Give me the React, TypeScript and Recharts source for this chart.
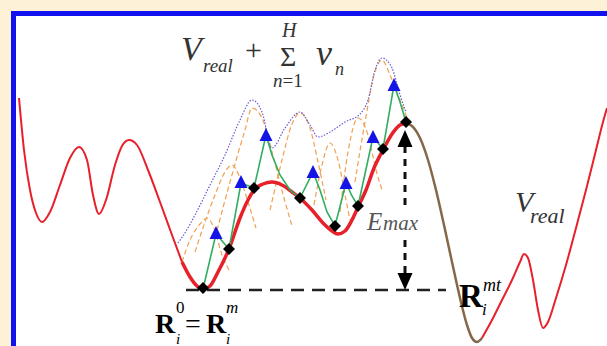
import React from "react";
import { ComposedChart, Line, XAxis, YAxis } from "recharts";

// potential energy curve, split into the styled pieces seen in the sketch
const redLeft = [
  { x: 19, y: 98 }, { x: 24, y: 150 }, { x: 30, y: 190 }, { x: 36, y: 213 }, { x: 42, y: 222 },
  { x: 50, y: 212 }, { x: 60, y: 185 }, { x: 70, y: 158 }, { x: 79, y: 147 }, { x: 87, y: 160 },
  { x: 93, y: 195 }, { x: 99, y: 214 }, { x: 106, y: 200 }, { x: 115, y: 165 }, { x: 122, y: 146 },
  { x: 129, y: 140 }, { x: 137, y: 145 }, { x: 148, y: 170 }, { x: 160, y: 202 }, { x: 172, y: 235 },
  { x: 182, y: 262 },
];
const redMid = [
  { x: 182, y: 262 }, { x: 190, y: 277 }, { x: 197, y: 286 }, { x: 203, y: 289 }, { x: 210, y: 286 },
  { x: 218, y: 272 }, { x: 229, y: 249 }, { x: 240, y: 218 }, { x: 248, y: 200 }, { x: 255, y: 189 },
  { x: 263, y: 184 }, { x: 272, y: 182 }, { x: 282, y: 185 }, { x: 292, y: 192 }, { x: 301, y: 199 },
  { x: 312, y: 210 }, { x: 324, y: 224 }, { x: 332, y: 231 }, { x: 338, y: 234 }, { x: 345, y: 231 },
  { x: 352, y: 220 }, { x: 358, y: 207 }, { x: 366, y: 190 }, { x: 374, y: 168 }, { x: 383, y: 150 },
  { x: 392, y: 134 }, { x: 400, y: 125 }, { x: 406, y: 123 },
];
const brownDrop = [
  { x: 406, y: 123 }, { x: 412, y: 126 }, { x: 420, y: 138 }, { x: 428, y: 160 }, { x: 436, y: 190 },
  { x: 444, y: 225 }, { x: 452, y: 262 }, { x: 460, y: 298 }, { x: 467, y: 325 }, { x: 472, y: 338 },
  { x: 477, y: 342 }, { x: 482, y: 338 },
];
const redRight = [
  { x: 482, y: 338 }, { x: 492, y: 320 }, { x: 502, y: 300 }, { x: 512, y: 280 }, { x: 520, y: 262 },
  { x: 524, y: 254 }, { x: 528, y: 258 }, { x: 533, y: 280 }, { x: 538, y: 310 }, { x: 543, y: 328 },
  { x: 548, y: 322 }, { x: 556, y: 298 }, { x: 566, y: 265 }, { x: 576, y: 228 }, { x: 586, y: 190 },
  { x: 596, y: 150 }, { x: 603, y: 122 }, { x: 607, y: 108 },
];

// V_real + sum of bias potentials
const biasTotal = [
  { x: 178, y: 243 }, { x: 183, y: 236 }, { x: 195, y: 215 }, { x: 210, y: 185 }, { x: 225, y: 155 },
  { x: 240, y: 120 }, { x: 252, y: 100 }, { x: 262, y: 112 }, { x: 272, y: 148 }, { x: 285, y: 128 },
  { x: 300, y: 112 }, { x: 310, y: 125 }, { x: 318, y: 137 }, { x: 330, y: 132 }, { x: 345, y: 122 },
  { x: 360, y: 114 }, { x: 368, y: 100 }, { x: 375, y: 70 }, { x: 382, y: 58 }, { x: 392, y: 68 },
  { x: 400, y: 95 }, { x: 406, y: 112 },
];

// intermediate biased potentials
const biasA = [
  { x: 182, y: 262 }, { x: 190, y: 240 }, { x: 200, y: 224 }, { x: 207, y: 218 }, { x: 214, y: 228 },
  { x: 222, y: 255 }, { x: 230, y: 272 },
];
const biasB = [
  { x: 195, y: 252 }, { x: 205, y: 222 }, { x: 215, y: 195 }, { x: 225, y: 172 }, { x: 232, y: 165 },
  { x: 240, y: 178 }, { x: 248, y: 202 }, { x: 256, y: 228 },
];
const biasC = [
  { x: 215, y: 238 }, { x: 230, y: 182 }, { x: 245, y: 130 }, { x: 252, y: 108 }, { x: 262, y: 118 },
  { x: 272, y: 152 }, { x: 284, y: 198 }, { x: 292, y: 226 },
];
const biasD = [
  { x: 270, y: 210 }, { x: 282, y: 160 }, { x: 292, y: 124 }, { x: 300, y: 113 }, { x: 310, y: 128 },
  { x: 318, y: 162 }, { x: 326, y: 200 },
];
const biasE = [
  { x: 314, y: 205 }, { x: 322, y: 165 }, { x: 330, y: 143 }, { x: 338, y: 160 }, { x: 346, y: 200 },
  { x: 350, y: 220 },
];
const biasF = [
  { x: 340, y: 212 }, { x: 348, y: 152 }, { x: 358, y: 118 }, { x: 368, y: 135 }, { x: 376, y: 170 },
  { x: 382, y: 190 },
];
const biasG = [
  { x: 355, y: 182 }, { x: 365, y: 122 }, { x: 375, y: 72 }, { x: 382, y: 60 }, { x: 390, y: 75 },
  { x: 400, y: 100 }, { x: 408, y: 120 },
];

// trajectory between minima (diamonds) and biased states (triangles)
const path = [
  { x: 203, y: 289 }, { x: 216, y: 234 }, { x: 229, y: 249 }, { x: 241, y: 183 }, { x: 254, y: 188 },
  { x: 266, y: 135 }, { x: 272, y: 155 }, { x: 280, y: 175 }, { x: 290, y: 190 }, { x: 300, y: 198 },
  { x: 313, y: 172 }, { x: 320, y: 190 }, { x: 327, y: 212 }, { x: 335, y: 226 }, { x: 346, y: 183 },
  { x: 352, y: 196 }, { x: 358, y: 206 }, { x: 373, y: 137 }, { x: 383, y: 149 }, { x: 394, y: 85 },
  { x: 400, y: 102 }, { x: 406, y: 122 },
];
const minima = [
  { x: 203, y: 288 }, { x: 229, y: 249 }, { x: 254, y: 188 }, { x: 300, y: 198 }, { x: 335, y: 226 },
  { x: 358, y: 206 }, { x: 383, y: 149 }, { x: 406, y: 122 },
];
const biased = [
  { x: 216, y: 234 }, { x: 241, y: 183 }, { x: 266, y: 136 }, { x: 313, y: 173 }, { x: 346, y: 184 },
  { x: 373, y: 138 }, { x: 394, y: 86 },
];

const baseline = [{ x: 186, y: 290 }, { x: 446, y: 290 }];
const emaxTop = [{ x: 405, y: 146 }, { x: 405, y: 206 }];
const emaxBottom = [{ x: 405, y: 240 }, { x: 405, y: 278 }];
const arrowHeads = [
  { x: 405, y: 130, dir: "up" },
  { x: 405, y: 290, dir: "down" },
];

const serif = "'Liberation Serif', 'Times New Roman', serif";

// eslint-disable-next-line @typescript-eslint/no-explicit-any
function DiamondDot(props: any) {
  const { cx, cy, index } = props;
  if (cx == null || cy == null) return null;
  const r = 6;
  return (
    <polygon key={`d${index}`} fill="#000"
      points={`${cx},${cy - r} ${cx + r},${cy} ${cx},${cy + r} ${cx - r},${cy}`} />
  );
}

// eslint-disable-next-line @typescript-eslint/no-explicit-any
function TriangleDot(props: any) {
  const { cx, cy, index } = props;
  if (cx == null || cy == null) return null;
  return (
    <polygon key={`t${index}`} fill="#1414e6"
      points={`${cx},${cy - 8} ${cx + 6.5},${cy + 5} ${cx - 6.5},${cy + 5}`} />
  );
}

// eslint-disable-next-line @typescript-eslint/no-explicit-any
function ArrowDot(props: any) {
  const { cx, cy, index, payload } = props;
  if (cx == null || cy == null) return null;
  const s = payload.dir === "up" ? 1 : -1;
  return (
    <polygon key={`a${index}`} fill="#000"
      points={`${cx},${cy} ${cx + 7.5},${cy + s * 17} ${cx - 7.5},${cy + s * 17}`} />
  );
}

const noDot = { dot: false, activeDot: false, isAnimationActive: false } as const;

export default function App() {
  return (
    <div style={{ position: "fixed", left: 0, top: 0, width: 607, height: 346, overflow: "hidden", background: "#fdf1d8" }}>
      <div style={{
        position: "absolute", left: 11, top: 11, width: 640, height: 400,
        background: "#fff", border: "5px solid #1212ee", boxSizing: "border-box",
      }} />
      <div style={{ position: "absolute", left: 0, top: 0 }}>
        <ComposedChart width={607} height={346} margin={{ top: 0, right: 0, bottom: 0, left: 0 }}>
          <XAxis type="number" dataKey="x" domain={[0, 607]} hide allowDataOverflow />
          <YAxis type="number" domain={[0, 346]} reversed hide allowDataOverflow />

          {[biasA, biasB, biasC, biasD, biasE, biasF, biasG].map((d, i) => (
            <Line key={`b${i}`} data={d} dataKey="y" type="monotone" stroke="#f0a050"
              strokeWidth={1.2} strokeDasharray="5 3" {...noDot} />
          ))}
          <Line data={biasTotal} dataKey="y" type="monotone" stroke="#6b5ccf"
            strokeWidth={1.2} strokeDasharray="1.5 1.5" {...noDot} />

          <Line data={redLeft} dataKey="y" type="monotone" stroke="#e8202a" strokeWidth={2} {...noDot} />
          <Line data={redMid} dataKey="y" type="monotone" stroke="#e8202a" strokeWidth={3.5} {...noDot} />
          <Line data={brownDrop} dataKey="y" type="monotone" stroke="#85684a" strokeWidth={2.5} {...noDot} />
          <Line data={redRight} dataKey="y" type="monotone" stroke="#e8202a" strokeWidth={2} {...noDot} />

          <Line data={baseline} dataKey="y" type="linear" stroke="#222" strokeWidth={2.5}
            strokeDasharray="13 8" {...noDot} />
          <Line data={emaxTop} dataKey="y" type="linear" stroke="#111" strokeWidth={3}
            strokeDasharray="7 6" {...noDot} />
          <Line data={emaxBottom} dataKey="y" type="linear" stroke="#111" strokeWidth={3}
            strokeDasharray="7 6" {...noDot} />

          <Line data={path} dataKey="y" type="linear" stroke="#2fae62" strokeWidth={1.6} {...noDot} />

          <Line data={minima} dataKey="y" stroke="none" dot={<DiamondDot />} activeDot={false} isAnimationActive={false} />
          <Line data={biased} dataKey="y" stroke="none" dot={<TriangleDot />} activeDot={false} isAnimationActive={false} />
          <Line data={arrowHeads} dataKey="y" stroke="none" dot={<ArrowDot />} activeDot={false} isAnimationActive={false} />
        </ComposedChart>
      </div>

      <svg width={607} height={346} style={{ position: "absolute", left: 0, top: 0, pointerEvents: "none" }}
        fontFamily={serif}>
        {/* V_real + sum_{n=1}^{H} v_n */}
        <g fill="#333">
          <text x={181} y={60} fontSize={34} fontStyle="italic">V</text>
          <text x={203} y={72} fontSize={19} fontStyle="italic">real</text>
          <text x={245} y={60} fontSize={30}>+</text>
          <text x={280} y={66} fontSize={28}>Σ</text>
          <text x={282} y={37} fontSize={20} fontStyle="italic">H</text>
          <text x={273} y={87} fontSize={19}><tspan fontStyle="italic">n</tspan>=1</text>
          <text x={316} y={65} fontSize={36} fontStyle="italic">v</text>
          <text x={335} y={75} fontSize={18} fontStyle="italic">n</text>
        </g>

        <g fill="#555" fontStyle="italic">
          <text x={367} y={230} fontSize={25}>E</text>
          <text x={383} y={230} fontSize={21}>max</text>
        </g>

        <g fill="#333" fontStyle="italic">
          <text x={515} y={212} fontSize={30}>V</text>
          <text x={530} y={223} fontSize={22}>real</text>
        </g>

        <g fill="#000">
          <text x={459} y={307} fontSize={33} fontWeight="bold">R</text>
          <text x={483} y={291} fontSize={18} fontStyle="italic">mt</text>
          <text x={482} y={315} fontSize={17} fontStyle="italic">i</text>

          <text x={155} y={333} fontSize={28} fontWeight="bold">R</text>
          <text x={176} y={313} fontSize={17}>0</text>
          <text x={176} y={344} fontSize={15} fontStyle="italic">i</text>
          <text x={185} y={333} fontSize={28}>=</text>
          <text x={206} y={333} fontSize={28} fontWeight="bold">R</text>
          <text x={226} y={313} fontSize={17} fontStyle="italic">m</text>
          <text x={226} y={344} fontSize={15} fontStyle="italic">i</text>
        </g>
      </svg>
    </div>
  );
}
